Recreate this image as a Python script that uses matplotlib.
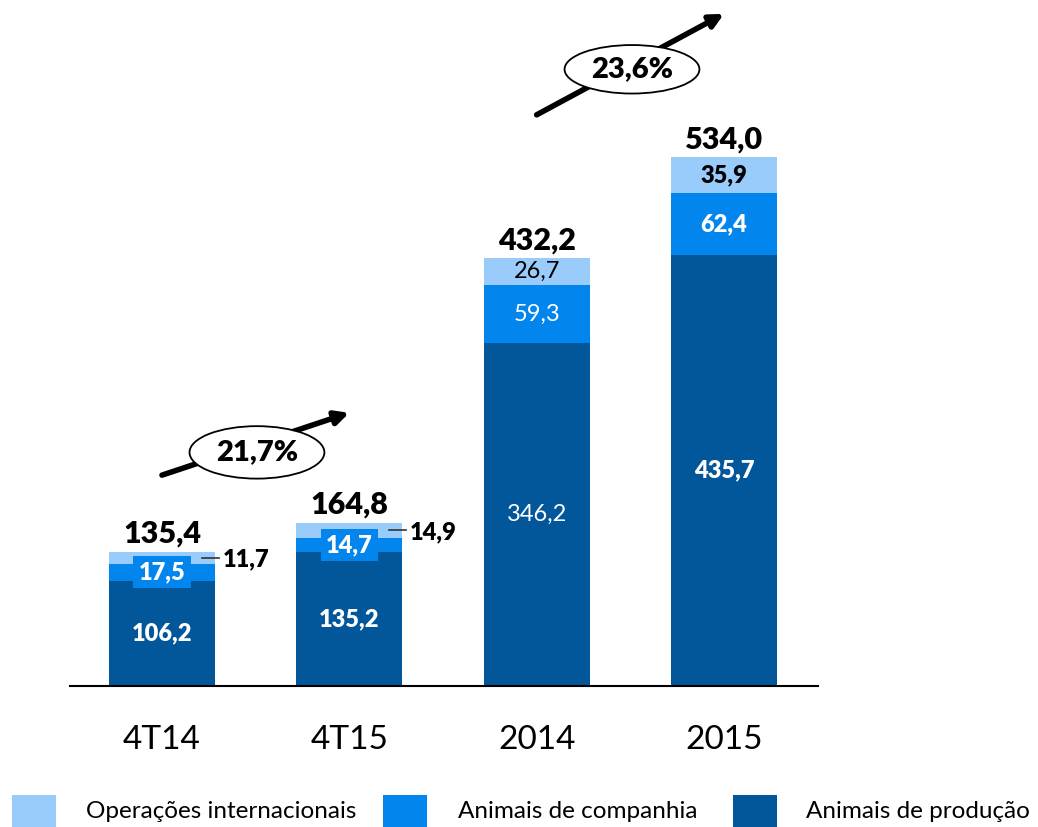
import matplotlib
matplotlib.use("Agg")
import matplotlib.pyplot as plt
from matplotlib.patches import Rectangle, Ellipse

plt.rcParams['font.family'] = ['Lato', 'DejaVu Sans']

# data
periods = ["4T14", "4T15", "2014", "2015"]
producao = [106.2, 135.2, 346.2, 435.7]
companhia = [17.5, 14.7, 59.3, 62.4]
internacional = [11.7, 14.9, 26.7, 35.9]
totais = [135.4, 164.8, 432.2, 534.0]
crescimento = ["21,7%", "23,6%"]
series_names = ["Operações internacionais", "Animais de companhia", "Animais de produção"]

c_light = "#99CCFB"
c_mid = "#0385EE"
c_dark = "#02569A"

W, H = 1038, 827
fig = plt.figure(figsize=(W / 100, H / 100), dpi=100)
ax = fig.add_axes([70 / W, (H - 686) / H, 748 / W, 686 / H])

x = list(range(len(periods)))
bw = 0.566
ax.bar(x, producao, width=bw, color=c_dark)
ax.bar(x, companhia, width=bw, bottom=producao, color=c_mid)
base2 = [p + c for p, c in zip(producao, companhia)]
ax.bar(x, internacional, width=bw, bottom=base2, color=c_light)

ax.set_xlim(-0.491, 3.502)
ax.set_ylim(0, 693)
for s in ["top", "right", "left"]:
    ax.spines[s].set_visible(False)
ax.spines["bottom"].set_linewidth(1.5)
ax.set_yticks([])
ax.set_xticks(x)
ax.set_xticklabels(periods, fontsize=24)
ax.tick_params(axis="x", length=0, pad=28)

def fmt(v):
    return f"{v:.1f}".replace(".", ",")

# totals
for i, t in enumerate(totais):
    ax.text(i, t + 4, fmt(t), ha="center", va="bottom", fontsize=22, fontweight="heavy")

# producao labels
for i, v in enumerate(producao):
    ax.text(i, v / 2, fmt(v), ha="center", va="center", color="white", fontsize=17,
            fontweight="normal" if i == 2 else "heavy")

# companhia labels
for i in range(2):
    ax.text(i, producao[i] + companhia[i] / 2, fmt(companhia[i]), ha="center", va="center",
            color="white", fontsize=17, fontweight="heavy",
            bbox=dict(boxstyle="square,pad=0.22", fc=c_mid, ec="none"))
for i in range(2, 4):
    ax.text(i, producao[i] + companhia[i] / 2, fmt(companhia[i]), ha="center", va="center",
            color="white", fontsize=17, fontweight="normal" if i == 2 else "heavy")

# internacional labels
for i in range(2):
    ym = base2[i] + internacional[i] / 2
    ax.plot([i + bw / 2 - 0.07, i + bw / 2 + 0.02], [ym, ym], color="#333333", lw=1.2)
    ax.text(i + bw / 2 + 0.04, ym - 2, fmt(internacional[i]), ha="left", va="center",
            fontsize=17, fontweight="heavy")
for i in range(2, 4):
    ax.text(i, base2[i] + internacional[i] / 2, fmt(internacional[i]), ha="center", va="center",
            color="black", fontsize=17, fontweight="normal" if i == 2 else "heavy")

# growth arrows
arrows = [((0, 213), (1, 276)), ((2, 577), (3, 679))]
ell_centers = [(0.507, 236), (2.509, 623)]
ell_sizes = [(0.72, 53), (0.72, 49)]
for (p0, p1), lab, (mx, my), (ew, eh) in zip(arrows, crescimento, ell_centers, ell_sizes):
    ax.annotate("", xy=p1, xytext=p0,
                arrowprops=dict(arrowstyle="-|>,head_length=0.8,head_width=0.4", lw=4,
                                color="black", shrinkA=0, shrinkB=0), annotation_clip=False)
    ax.add_patch(Ellipse((mx, my), ew, eh, fc="white", ec="black", lw=1.3, zorder=5, clip_on=False))
    ax.text(mx, my, lab, ha="center", va="center", fontsize=21, fontweight="heavy", zorder=6)

# legend
leg_colors = [c_light, c_mid, c_dark]
patch_x = [12, 383, 733]
text_x = [86, 458, 806]
for px, tx, col, name in zip(patch_x, text_x, leg_colors, series_names):
    fig.add_artist(Rectangle((px / W, 0), 44 / W, 32 / H, transform=fig.transFigure,
                             fc=col, ec="none"))
    fig.text(tx / W, (H - 811) / H, name, ha="left", va="center", fontsize=17.5)

fig.savefig("out.png", dpi=100)
